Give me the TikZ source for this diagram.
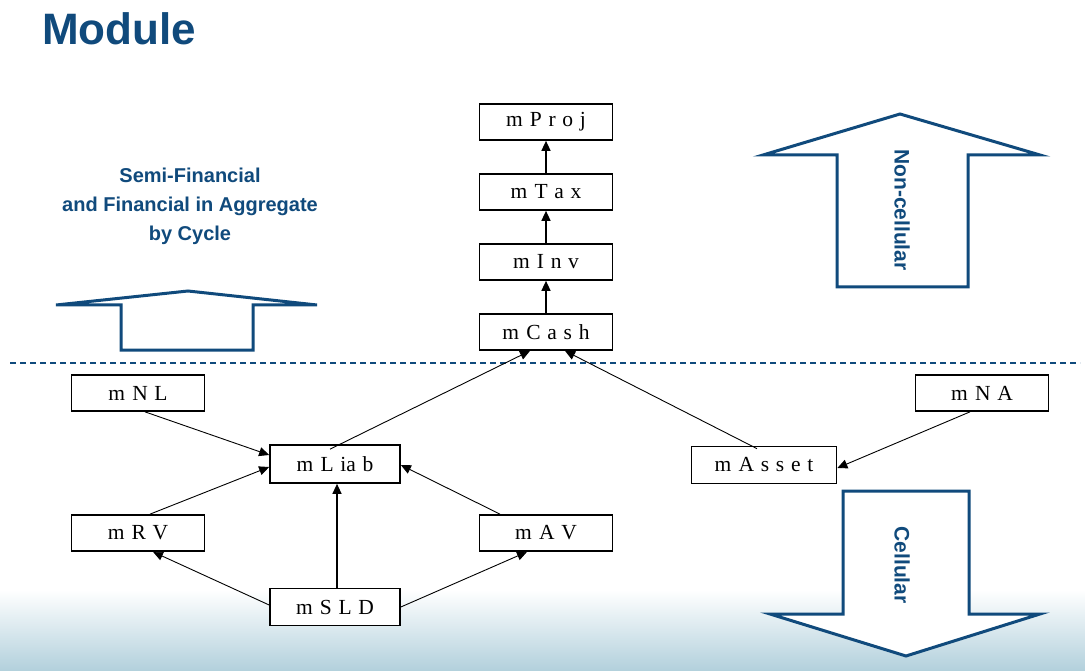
\documentclass[tikz,border=0pt]{standalone}
\usepackage{fontspec}
\setmainfont{Liberation Serif}
\newfontfamily\boxfont[WordSpace=1.25]{Liberation Serif}
\newfontfamily\headfont{Liberation Sans}
\usetikzlibrary{arrows.meta,calc}
\definecolor{dblue}{RGB}{16,74,124}
\definecolor{bgblue}{RGB}{178,208,220}
\tikzset{
  mbox/.style={draw=black,line width=1.7pt,fill=white,minimum width=133pt,minimum height=36pt,inner sep=0pt,font=\boxfont\fontsize{21.5}{24}\selectfont},
  arr/.style={-{Triangle[length=10pt,width=9pt]},line width=0.9pt},
  varr/.style={-{Triangle[length=10pt,width=9pt]},line width=1.5pt},
  bigarrow/.style={draw=dblue,line width=3pt,line join=miter,fill=white},
  bluetext/.style={text=dblue,font=\headfont\bfseries\fontsize{20}{29}\selectfont}
}
\begin{document}
\begin{tikzpicture}[x=1pt,y=-1pt]
\useasboundingbox (0,0) rectangle (1085,671);
\fill[white] (0,0) rectangle (1085,671);
\shade[top color=white,bottom color=bgblue] (0,590) rectangle (1085,671);
% title
\node[anchor=base west,inner sep=0pt,text=dblue,font=\headfont\bfseries\fontsize{44}{50}\selectfont] (title) at (42,45) {Module};
% dashed divider
\coordinate (dl) at (10,363);
\coordinate (dr) at (1080,363);
\draw[dblue,line width=1.3pt,dash pattern=on 6pt off 4pt] (dl) -- (dr);
% big arrows
\draw[bigarrow] (121,350) -- (121,305) -- (56,305) -- (188,291) -- (317,305) -- (253,305) -- (253,350) -- cycle;
\draw[bigarrow] (837,287) -- (837,155) -- (763,155) -- (900,114) -- (1040,155) -- (968,155) -- (968,287) -- cycle;
\draw[bigarrow] (843,491) -- (843,614) -- (770,614) -- (906,656) -- (1040,614) -- (969,614) -- (969,491) -- cycle;
\node[bluetext,rotate=-90,font=\headfont\bfseries\fontsize{21}{25}\selectfont] (noncell) at (902,210) {Non-cellular};
\node[bluetext,rotate=-90,font=\headfont\bfseries\fontsize{21}{25}\selectfont] (cell) at (902,565) {Cellular};
\node[bluetext,align=center] (semi) at (190,206) {Semi-Financial\\and Financial in Aggregate\\by Cycle};
% boxes
\node[mbox] (proj) at (546,122) {m\,\,P r o j};
\node[mbox] (tax) at (546,192) {m\,\,T a x};
\node[mbox] (inv) at (546,262) {m\,\,I n v};
\node[mbox] (cash) at (546,332) {m\,\,C a s h};
\node[mbox] (nl) at (138,393) {m\,\,N L};
\node[mbox,minimum width=130pt,minimum height=38pt] (liab) at (335,464) {m\,\,L ia b};
\node[mbox] (rv) at (138,533) {m\,\,R V};
\node[mbox] (av) at (546,533) {m\,\,A V};
\node[mbox,minimum width=130pt,minimum height=37pt] (sld) at (335,607) {m\,\,S L D};
\node[mbox] (na) at (982,393) {m\,\,N A};
\node[mbox,minimum width=145pt,minimum height=37pt] (asset) at (764,465) {m\,\,A s s e t};
% connectors
\draw[varr] (tax.north) -- (proj.south);
\draw[varr] (inv.north) -- (tax.south);
\draw[varr] (cash.north) -- (inv.south);
\draw[arr] ([xshift=-5pt,yshift=-5pt]liab.north) -- ([xshift=-16pt]cash.south);
\draw[arr] ([xshift=-7pt,yshift=-3pt]asset.north) -- ([xshift=19pt]cash.south);
\draw[arr] ([xshift=7pt]nl.south) -- ([yshift=9pt]liab.west);
\draw[arr] ([xshift=12pt]rv.north) -- ([yshift=-3pt]liab.west);
\draw[arr] ([xshift=-46pt]av.north) -- ([yshift=-1pt]liab.east);
\draw[varr,line width=1.3pt] ([xshift=2pt]sld.north) -- ([xshift=2pt]liab.south);
\draw[arr] ([yshift=2pt]sld.west) -- ([xshift=15pt]rv.south);
\draw[arr] (sld.east) -- ([xshift=-19pt]av.south);
\draw[arr] ([xshift=-12pt]na.south) -- ([yshift=-3pt]asset.east);
\end{tikzpicture}
\end{document}
